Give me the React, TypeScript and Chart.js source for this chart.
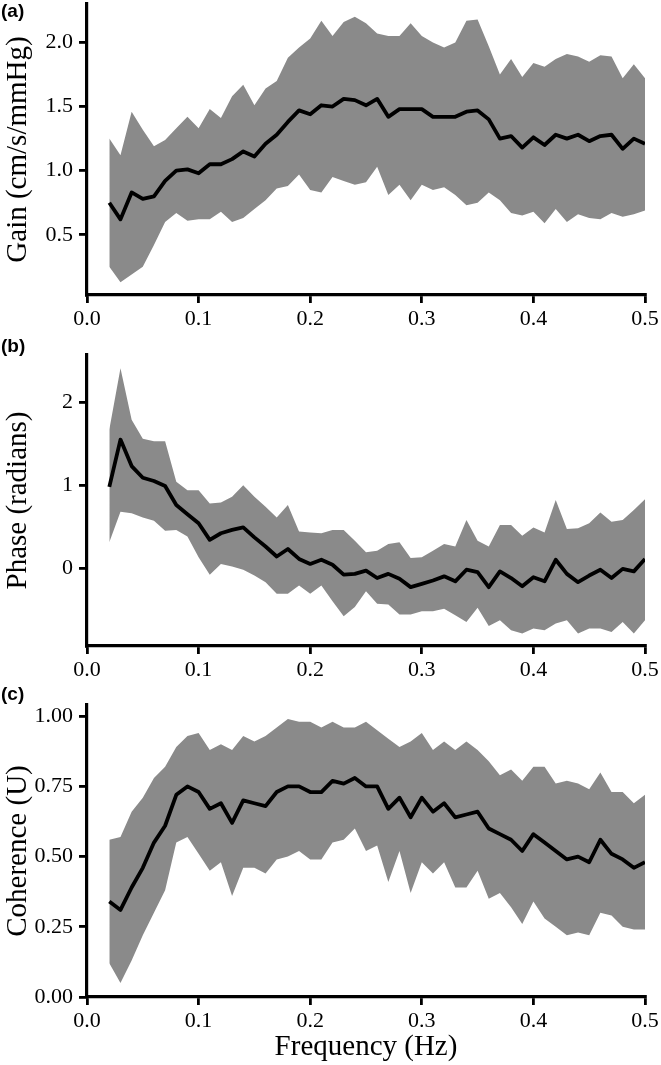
import React, { useEffect, useRef } from "react";
import { Chart, registerables } from "chart.js";

Chart.register(...registerables);

// ---------- data ----------
const freq = [
  0.02, 0.03, 0.04, 0.05, 0.06, 0.07, 0.08, 0.09, 0.1, 0.11, 0.12, 0.13, 0.14,
  0.15, 0.16, 0.17, 0.18, 0.19, 0.2, 0.21, 0.22, 0.23, 0.24, 0.25, 0.26, 0.27,
  0.28, 0.29, 0.3, 0.31, 0.32, 0.33, 0.34, 0.35, 0.36, 0.37, 0.38, 0.39, 0.4,
  0.41, 0.42, 0.43, 0.44, 0.45, 0.46, 0.47, 0.48, 0.49, 0.5,
];

const gainMean = [
  0.75, 0.62, 0.83, 0.78, 0.8, 0.92, 1.0, 1.01, 0.98, 1.05, 1.05, 1.09, 1.15,
  1.11, 1.21, 1.28, 1.38, 1.47, 1.44, 1.51, 1.5, 1.56, 1.55, 1.51, 1.56, 1.42,
  1.48, 1.48, 1.48, 1.42, 1.42, 1.42, 1.46, 1.47, 1.4, 1.25, 1.27, 1.18, 1.26,
  1.2, 1.28, 1.25, 1.28, 1.23, 1.27, 1.28, 1.17, 1.25, 1.21,
];
const gainUpper = [
  1.25, 1.12, 1.46, 1.32, 1.19, 1.24, 1.33, 1.42, 1.33, 1.48, 1.41, 1.58, 1.67,
  1.51, 1.64, 1.7, 1.88, 1.96, 2.03, 2.17, 2.05, 2.16, 2.2, 2.15, 2.07, 2.05,
  2.05, 2.15, 2.05, 2.0, 1.96, 2.0, 2.17, 2.18, 1.97, 1.75, 1.87, 1.73, 1.84,
  1.81, 1.87, 1.91, 1.89, 1.85, 1.9, 1.89, 1.72, 1.83, 1.72,
];
const gainLower = [
  0.25, 0.13, 0.19, 0.25, 0.42, 0.6, 0.67, 0.61, 0.62, 0.62, 0.68, 0.6, 0.63,
  0.7, 0.77, 0.86, 0.88, 0.97, 0.85, 0.83, 0.95, 0.92, 0.89, 0.91, 1.03, 0.81,
  0.89, 0.77, 0.89, 0.85, 0.87, 0.81, 0.73, 0.75, 0.83, 0.77, 0.67, 0.65, 0.68,
  0.59, 0.7, 0.6, 0.66, 0.63, 0.62, 0.67, 0.64, 0.66, 0.69,
];

const phaseMean = [
  0.98, 1.55, 1.23, 1.09, 1.05, 0.99, 0.76, 0.65, 0.54, 0.34, 0.42, 0.46, 0.49,
  0.37, 0.26, 0.14, 0.23, 0.11, 0.05, 0.1, 0.04, -0.08, -0.07, -0.03, -0.12,
  -0.07, -0.13, -0.23, -0.19, -0.15, -0.1, -0.16, -0.02, -0.05, -0.23, -0.04,
  -0.12, -0.22, -0.11, -0.16, 0.1, -0.07, -0.17, -0.09, -0.02, -0.12, -0.01,
  -0.04, 0.11,
];
const phaseUpper = [
  1.67, 2.41, 1.79, 1.56, 1.53, 1.53, 1.04, 0.94, 0.94, 0.78, 0.79, 0.86, 1.0,
  0.86, 0.74, 0.61, 0.76, 0.44, 0.43, 0.42, 0.46, 0.46, 0.33, 0.19, 0.21, 0.29,
  0.31, 0.12, 0.13, 0.21, 0.29, 0.26, 0.58, 0.33, 0.26, 0.52, 0.52, 0.39, 0.49,
  0.43, 0.82, 0.47, 0.48, 0.54, 0.67, 0.56, 0.58, 0.7, 0.83,
];
const phaseLower = [
  0.31, 0.68, 0.66, 0.61, 0.57, 0.45, 0.46, 0.38, 0.13, -0.08, 0.05, 0.02,
  -0.02, -0.09, -0.17, -0.31, -0.31, -0.21, -0.31, -0.21, -0.4, -0.58, -0.47,
  -0.28, -0.43, -0.44, -0.56, -0.56, -0.52, -0.52, -0.49, -0.57, -0.65, -0.48,
  -0.7, -0.63, -0.75, -0.79, -0.73, -0.75, -0.67, -0.63, -0.79, -0.73, -0.73,
  -0.77, -0.65, -0.79, -0.63,
];

const cohMean = [
  0.34, 0.31, 0.39, 0.46, 0.55, 0.61, 0.72, 0.75, 0.73, 0.67, 0.69, 0.62, 0.7,
  0.69, 0.68, 0.73, 0.75, 0.75, 0.73, 0.73, 0.77, 0.76, 0.78, 0.75, 0.75, 0.67,
  0.71, 0.64, 0.71, 0.66, 0.69, 0.64, 0.65, 0.66, 0.6, 0.58, 0.56, 0.52, 0.58,
  0.55, 0.52, 0.49, 0.5, 0.48, 0.56, 0.51, 0.49, 0.46, 0.48,
];
const cohUpper = [
  0.56, 0.57, 0.66, 0.71, 0.78, 0.82, 0.89, 0.93, 0.94, 0.88, 0.9, 0.88, 0.93,
  0.91, 0.93, 0.96, 0.99, 0.98, 0.98, 0.96, 0.98, 0.96, 0.96, 0.98, 0.95, 0.92,
  0.89, 0.91, 0.94, 0.88, 0.91, 0.88, 0.91, 0.88, 0.84, 0.79, 0.81, 0.77, 0.82,
  0.82, 0.76, 0.77, 0.76, 0.74, 0.8, 0.73, 0.73, 0.69, 0.72,
];
const cohLower = [
  0.12, 0.05, 0.13, 0.22, 0.3, 0.38, 0.55, 0.57, 0.51, 0.45, 0.48, 0.36, 0.46,
  0.46, 0.44, 0.49, 0.5, 0.52, 0.49, 0.49, 0.55, 0.56, 0.6, 0.52, 0.54, 0.41,
  0.52, 0.37, 0.48, 0.44, 0.48, 0.39, 0.39, 0.45, 0.35, 0.37, 0.32, 0.26, 0.34,
  0.28, 0.25, 0.22, 0.23, 0.22, 0.3, 0.29, 0.25, 0.24, 0.24,
];

const xTicks = [0, 0.1, 0.2, 0.3, 0.4, 0.5];
const gainTicks = [0.5, 1.0, 1.5, 2.0];
const phaseTicks = [0, 1, 2];
const cohTicks = [0, 0.25, 0.5, 0.75, 1.0];

// ---------- styling ----------
const SERIF = "'Liberation Serif', 'Times New Roman', serif";
const BAND = "#8a8a8a";
const W = 661;

type PanelProps = {
  top: number;
  height: number;
  areaTop: number;
  areaBottom: number;
  upper: number[];
  lower: number[];
  mean: number[];
  yMin: number;
  yMax: number;
  yTicks: number[];
  yDecimals: number;
  yTitle: string;
  xTitle?: string;
};

function Panel(p: PanelProps) {
  const ref = useRef<HTMLCanvasElement | null>(null);
  useEffect(() => {
    if (!ref.current) return;
    const pts = (ys: number[]) => freq.map((x, i) => ({ x, y: ys[i] }));
    const chart = new Chart(ref.current, {
      type: "line",
      data: {
        datasets: [
          {
            data: pts(p.upper),
            borderWidth: 0,
            borderColor: "rgba(0,0,0,0)",
            pointRadius: 0,
            fill: "+1",
            backgroundColor: BAND,
            tension: 0,
            order: 2,
          },
          {
            data: pts(p.lower),
            borderWidth: 0,
            borderColor: "rgba(0,0,0,0)",
            pointRadius: 0,
            fill: false,
            tension: 0,
            order: 1,
          },
          {
            data: pts(p.mean),
            borderWidth: 3.8,
            borderColor: "#000",
            borderJoinStyle: "round",
            borderCapStyle: "butt",
            pointRadius: 0,
            fill: false,
            tension: 0,
            order: 0,
          },
        ],
      },
      options: {
        animation: false,
        responsive: false,
        maintainAspectRatio: false,
        events: [],
        layout: { padding: { left: 0, right: 16, top: p.areaTop, bottom: 0 } },
        plugins: {
          legend: { display: false },
          tooltip: { enabled: false },
          filler: { drawTime: "beforeDatasetsDraw" },
        },
        scales: {
          x: {
            type: "linear",
            min: 0,
            max: 0.5,
            afterBuildTicks: (s: any) => {
              s.ticks = xTicks.map((v) => ({ value: v }));
            },
            afterFit: (s: any) => {
              s.height = p.height - p.areaBottom;
              s.paddingLeft = 0;
              s.paddingRight = 0;
            },
            ticks: {
              autoSkip: false,
              maxRotation: 0,
              padding: 3,
              color: "#000",
              font: { family: SERIF, size: 22 },
              callback: (v: any) => Number(v).toFixed(1),
            },
            grid: {
              drawOnChartArea: false,
              drawTicks: true,
              tickLength: 8,
              color: "#000",
              lineWidth: 2.8,
            },
            border: { display: true, color: "#000", width: 3.2 },
            title: p.xTitle
              ? {
                  display: true,
                  text: p.xTitle,
                  color: "#000",
                  font: { family: SERIF, size: 29 },
                  padding: { top: 0, bottom: 0 },
                }
              : { display: false },
          },
          y: {
            type: "linear",
            min: p.yMin,
            max: p.yMax,
            afterBuildTicks: (s: any) => {
              s.ticks = p.yTicks.map((v) => ({ value: v }));
            },
            afterFit: (s: any) => {
              s.width = 87;
              s.paddingTop = 0;
              s.paddingBottom = 0;
            },
            ticks: {
              autoSkip: false,
              padding: 6,
              color: "#000",
              font: { family: SERIF, size: 22 },
              callback: (v: any) => Number(v).toFixed(p.yDecimals),
            },
            grid: {
              drawOnChartArea: false,
              drawTicks: true,
              tickLength: 8,
              color: "#000",
              lineWidth: 2.8,
            },
            border: { display: true, color: "#000", width: 3.2 },
            title: {
              display: true,
              text: p.yTitle,
              color: "#000",
              font: { family: SERIF, size: 29 },
              padding: { top: 1, bottom: 0 },
            },
          },
        },
      },
    } as any);
    return () => chart.destroy();
  }, []);
  return (
    <canvas
      ref={ref}
      width={W}
      height={p.height}
      style={{
        position: "absolute",
        left: 0,
        top: p.top,
        width: W,
        height: p.height,
      }}
    />
  );
}

const labelStyle = (top: number): React.CSSProperties => ({
  position: "absolute",
  left: 1,
  top,
  fontFamily: "'Liberation Sans', Arial, sans-serif",
  fontWeight: "bold",
  fontSize: 19,
  lineHeight: "19px",
  color: "#000",
});

export default function App() {
  return (
    <div
      style={{
        position: "absolute",
        left: 0,
        top: 0,
        width: W,
        height: 1065,
        background: "#fff",
        overflow: "hidden",
      }}
    >
      <Panel
        top={0}
        height={340}
        areaTop={4}
        areaBottom={295}
        upper={gainUpper}
        lower={gainLower}
        mean={gainMean}
        yMin={0.03}
        yMax={2.3}
        yTicks={gainTicks}
        yDecimals={1}
        yTitle="Gain (cm/s/mmHg)"
      />
      <Panel
        top={320}
        height={370}
        areaTop={35}
        areaBottom={326}
        upper={phaseUpper}
        lower={phaseLower}
        mean={phaseMean}
        yMin={-0.94}
        yMax={2.57}
        yTicks={phaseTicks}
        yDecimals={0}
        yTitle="Phase (radians)"
      />
      <Panel
        top={660}
        height={405}
        areaTop={45}
        areaBottom={337}
        upper={cohUpper}
        lower={cohLower}
        mean={cohMean}
        yMin={0}
        yMax={1.04}
        yTicks={cohTicks}
        yDecimals={2}
        yTitle="Coherence (U)"
        xTitle="Frequency (Hz)"
      />
      <div style={labelStyle(1)}>(a)</div>
      <div style={labelStyle(336)}>(b)</div>
      <div style={labelStyle(684)}>(c)</div>
    </div>
  );
}
